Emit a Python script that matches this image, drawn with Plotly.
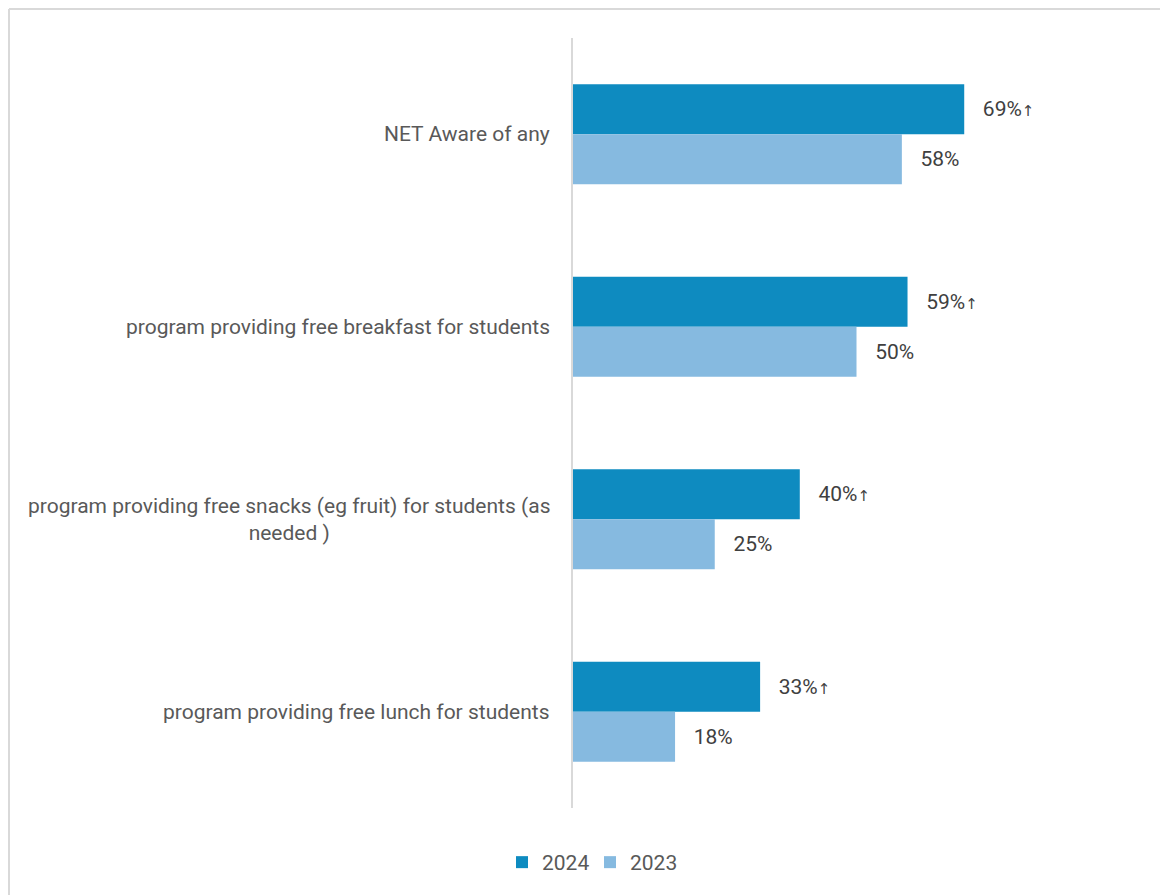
import plotly.graph_objects as go

categories = ["NET Aware of any",
              "program providing free breakfast for students",
              "program providing free snacks (eg fruit) for students (as<br>needed )",
              "program providing free lunch for students"]
cat_keys = ["NET", "Breakfast", "Snacks", "Lunch"]
values_2024 = [69, 59, 40, 33]
values_2023 = [58, 50, 25, 18]
sig_2024 = [True, True, True, True]

C24 = "#0E8BC0"
C23 = "#86BAE0"
TXT = "#595959"
FONT = "Roboto"

W, H = 1168, 895
L, T = 565, 30
pw, ph = 567, 770
R = W - L - pw
B = H - T - ph

def lab(v, s):
    t = "\u00a0\u00a0\u00a0" + f"{v}%"
    if s:
        t += '<span style="font-family:DejaVu Sans;font-size:15px">↑</span>'
    return t

fig = go.Figure()
fig.add_trace(go.Bar(
    y=cat_keys, x=values_2024, orientation="h", name="2024",
    marker=dict(color=C24, line=dict(width=0)),
    text=[lab(v, s) for v, s in zip(values_2024, sig_2024)],
    textposition="outside", cliponaxis=False,
    textfont=dict(family=FONT, size=21, color="#404040"),
))
fig.add_trace(go.Bar(
    y=cat_keys, x=values_2023, orientation="h", name="2023",
    marker=dict(color=C23, line=dict(width=0)),
    text=[lab(v, False) for v in values_2023],
    textposition="outside", cliponaxis=False,
    textfont=dict(family=FONT, size=21, color="#404040"),
))

for k, c in zip(cat_keys, categories):
    fig.add_annotation(
        x=0, xref="paper", y=k, yref="y", text=c, showarrow=False,
        xanchor="right", yanchor="middle", align="center", xshift=-21,
        font=dict(family=FONT, size=21, color=TXT),
    )

# outer chart border: only left and top edges are visible in the reference
x_left = (1 - L) / pw
y_top = 1 + (T - 1) / ph
y_bot = -(H - T - ph) / ph
x_right = (W - L) / pw
fig.add_shape(type="line", xref="paper", yref="paper",
              x0=x_left, x1=x_left, y0=y_bot, y1=y_top,
              line=dict(color="#D9D9D9", width=2), layer="below")
fig.add_shape(type="line", xref="paper", yref="paper",
              x0=x_left, x1=x_right, y0=y_top, y1=y_top,
              line=dict(color="#D9D9D9", width=2), layer="below")

fig.update_layout(
    width=W, height=H,
    margin=dict(l=L, r=R, t=T, b=B, autoexpand=False),
    paper_bgcolor="white", plot_bgcolor="white",
    barmode="group", bargap=0.48, bargroupgap=0,
    font=dict(family=FONT, size=21, color=TXT),
    xaxis=dict(range=[0, 100], showgrid=False, zeroline=False,
               showticklabels=False, showline=False, fixedrange=True),
    yaxis=dict(autorange="reversed", showticklabels=False, showgrid=False,
               zeroline=False, showline=True, linecolor="#D9D9D9", linewidth=2,
               ticks=""),
    legend=dict(orientation="h", x=(494 - L) / pw, xanchor="left",
                y=(T + ph - 834) / ph, yanchor="top",
                font=dict(family=FONT, size=21, color=TXT),
                bgcolor="rgba(0,0,0,0)",
                itemwidth=30, entrywidth=43, traceorder="normal"),
    showlegend=True,
)
fig.write_html("out.html")
